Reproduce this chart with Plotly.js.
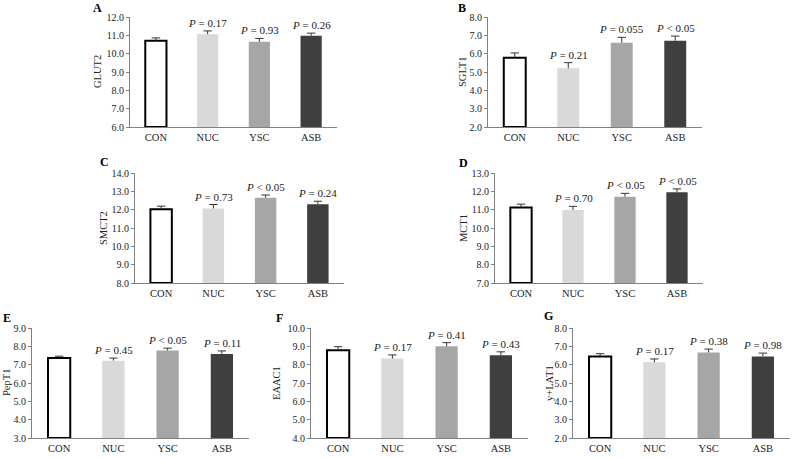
<!DOCTYPE html>
<html>
<head>
<meta charset="utf-8">
<script src="https://cdn.plot.ly/plotly-3.0.1.min.js"></script>
<style>html,body{margin:0;padding:0;background:#fff;}#chart{width:793px;height:458px;}</style>
</head>
<body>
<div id="chart"></div>
<script>
// ---- data ----
const groups = ['CON', 'NUC', 'YSC', 'ASB'];

const glut2 = [10.70, 11.06, 10.65, 10.98];
const glut2Err = [0.16, 0.18, 0.18, 0.14];
const glut2P = [null, '= 0.17', '= 0.93', '= 0.26'];

const sglt1 = [5.78, 5.20, 6.60, 6.71];
const sglt1Err = [0.26, 0.31, 0.29, 0.25];
const sglt1P = [null, '= 0.21', '= 0.055', '< 0.05'];

const smct2 = [12.02, 12.07, 12.65, 12.29];
const smct2Err = [0.17, 0.21, 0.15, 0.17];
const smct2P = [null, '= 0.73', '< 0.05', '= 0.24'];

const mct1 = [11.12, 10.98, 11.71, 11.95];
const mct1Err = [0.18, 0.20, 0.18, 0.18];
const mct1P = [null, '= 0.70', '< 0.05', '< 0.05'];

const pept1 = [7.36, 7.22, 7.77, 7.58];
const pept1Err = [0.10, 0.14, 0.13, 0.17];
const pept1P = [null, '= 0.45', '< 0.05', '= 0.11'];

const eaac1 = [8.78, 8.33, 9.00, 8.52];
const eaac1Err = [0.20, 0.20, 0.20, 0.18];
const eaac1P = [null, '= 0.17', '= 0.41', '= 0.43'];

const lat1 = [6.45, 6.13, 6.67, 6.45];
const lat1Err = [0.15, 0.18, 0.18, 0.18];
const lat1P = [null, '= 0.17', '= 0.38', '= 0.98'];

const panelLetters = ['A', 'B', 'C', 'D', 'E', 'F', 'G'];
const yTitles = ['GLUT2', 'SGLT1', 'SMCT2', 'MCT1', 'PepT1', 'EAAC1', 'y+LAT1'];
const yRanges = [[6, 12], [2, 8], [8, 14], [7, 13], [3, 9], [4, 10], [2, 8]];

// ---- layout helpers (pixel boxes) ----
const W = 793, H = 458;
const panels = [
  {vals: glut2, err: glut2Err, p: glut2P, box: [130, 337, 17, 127]},
  {vals: sglt1, err: sglt1Err, p: sglt1P, box: [488, 702, 17, 127]},
  {vals: smct2, err: smct2Err, p: smct2P, box: [135, 344, 173, 283]},
  {vals: mct1, err: mct1Err, p: mct1P, box: [495, 703, 173, 283]},
  {vals: pept1, err: pept1Err, p: pept1P, box: [32, 249, 328, 438]},
  {vals: eaac1, err: eaac1Err, p: eaac1P, box: [311, 528, 328, 438]},
  {vals: lat1, err: lat1Err, p: lat1P, box: [573, 790, 328, 438]}
];
const letterPos = [[97, 8], [462, 8], [105, 162], [463, 163], [7, 318], [279, 318], [548, 316]];
const titleX = [97, 462, 103, 463, 6, 276, 549];

const barColors = ['#ffffff', '#d9d9d9', '#a6a6a6', '#3f3f3f'];
const lineWidths = [2, 0, 0, 0];
const serif = 'Liberation Serif, Times New Roman, serif';

const traces = [];
const layout = {
  width: W, height: H,
  margin: {l: 0, r: 0, t: 0, b: 0},
  paper_bgcolor: '#ffffff', plot_bgcolor: '#ffffff',
  showlegend: false,
  annotations: []
};

panels.forEach((pn, i) => {
  const n = i === 0 ? '' : String(i + 1);
  const xa = 'x' + n, ya = 'y' + n;
  const [x0, x1, y0, y1] = pn.box;
  const base = yRanges[i][0];
  traces.push({
    type: 'bar', x: groups, y: pn.vals.map(v => v - base), base: base,
    xaxis: xa, yaxis: ya, width: 0.41,
    marker: {color: barColors, line: {color: '#000000', width: lineWidths}},
    hoverinfo: 'skip'
  });
  traces.push({
    type: 'scatter', mode: 'markers', x: groups,
    y: pn.vals.map((v, j) => v + pn.err[j]),
    xaxis: xa, yaxis: ya,
    marker: {symbol: 'line-ew', size: 6, color: '#333333', line: {color: '#333333', width: 1}},
    error_y: {type: 'data', symmetric: false, array: pn.err.map(() => 0), arrayminus: pn.err,
              color: '#333333', thickness: 1, width: 0},
    hoverinfo: 'skip'
  });

  layout['xaxis' + n] = {
    domain: [x0 / W, x1 / W], anchor: ya,
    showline: true, linecolor: '#808080', linewidth: 1,
    ticks: '', showgrid: false, zeroline: false,
    tickfont: {family: serif, size: 10.5, color: '#222'},
    fixedrange: true
  };
  layout['yaxis' + n] = {
    domain: [1 - y1 / H, 1 - y0 / H], anchor: xa,
    range: yRanges[i], dtick: 1, tickformat: '.1f',
    showline: true, linecolor: '#808080', linewidth: 1,
    ticks: 'outside', ticklen: 3, tickcolor: '#808080',
    showgrid: false, zeroline: false,
    tickfont: {family: serif, size: 10, color: '#222'},
    fixedrange: true
  };
  layout.annotations.push({
    xref: 'paper', yref: 'paper', x: letterPos[i][0] / W, y: 1 - letterPos[i][1] / H,
    text: '<b>' + panelLetters[i] + '</b>', showarrow: false,
    xanchor: 'center', yanchor: 'middle',
    font: {family: serif, size: 12, color: '#000'}
  });
  layout.annotations.push({
    xref: 'paper', yref: 'paper', x: titleX[i] / W, y: 1 - ((y0 + y1) / 2) / H,
    text: yTitles[i], textangle: -90, showarrow: false,
    xanchor: 'center', yanchor: 'middle',
    font: {family: serif, size: 10.5, color: '#222'}
  });
  pn.p.forEach((t, j) => {
    if (!t) return;
    layout.annotations.push({
      xref: xa, yref: ya, x: groups[j], y: pn.vals[j] + pn.err[j],
      text: '<i>P</i> ' + t, showarrow: false,
      xanchor: 'center', yanchor: 'bottom', yshift: 0,
      font: {family: serif, size: 11, color: '#222'}
    });
  });
});

Plotly.newPlot('chart', traces, layout, {displayModeBar: false, staticPlot: true});
</script>
</body>
</html>
